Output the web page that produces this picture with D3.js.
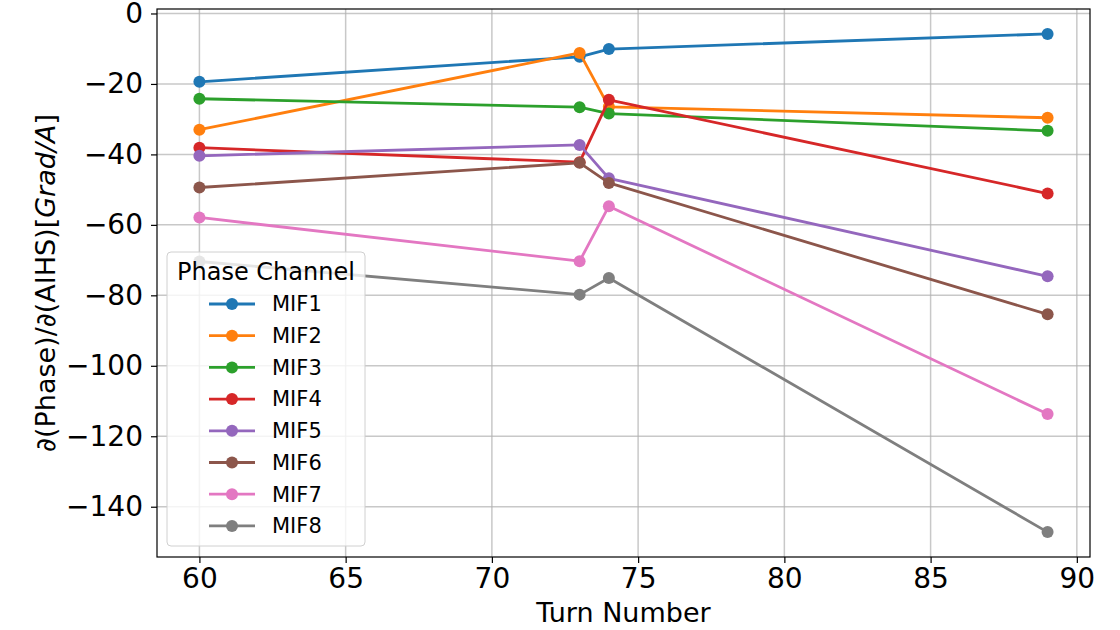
<!DOCTYPE html>
<html>
<head>
<meta charset="utf-8">
<script src="https://cdn.jsdelivr.net/npm/d3@7"></script>
<style>
  body { margin: 0; background: #fff; }
  svg { font-family: "DejaVu Sans", sans-serif; }
</style>
</head>
<body>
<div id="chart"></div>
<script>
// Turn numbers on the x axis
const turns = [60, 73, 74, 89];

// Channel names and values
const channels = ['MIF1', 'MIF2', 'MIF3', 'MIF4', 'MIF5', 'MIF6', 'MIF7', 'MIF8'];
const mif1 = [-19.4, -12.3, -10.1, -5.8];
const mif2 = [-33.0, -11.2, -26.5, -29.6];
const mif3 = [-24.2, -26.6, -28.4, -33.3];
const mif4 = [-38.1, -42.2, -24.5, -51.1];
const mif5 = [-40.4, -37.3, -46.8, -74.6];
const mif6 = [-49.4, -42.4, -48.1, -85.4];
const mif7 = [-57.9, -70.3, -54.7, -113.7];
const mif8 = [-70.4, -79.8, -75.1, -147.2];
const seriesValues = [mif1, mif2, mif3, mif4, mif5, mif6, mif7, mif8];

const xTicks = [60, 65, 70, 75, 80, 85, 90];
const yTicks = [0, -20, -40, -60, -80, -100, -120, -140];

const colors = ['#1f77b4', '#ff7f0e', '#2ca02c', '#d62728', '#9467bd', '#8c564b', '#e377c2', '#7f7f7f'];

// Layout
const W = 1120, H = 630;
const margin = { top: 9, right: 30, bottom: 73, left: 157 };
const width = W - margin.left - margin.right;
const height = H - margin.top - margin.bottom;

const svg = d3.select('#chart')
  .append('svg')
  .attr('width', W)
  .attr('height', H);

const g = svg.append('g')
  .attr('transform', `translate(${margin.left},${margin.top})`);

// matplotlib-style 5% padding around the data
const xMin = d3.min(turns), xMax = d3.max(turns);
const xPad = (xMax - xMin) * 0.05;
const yMin = d3.min(seriesValues, s => d3.min(s)), yMax = d3.max(seriesValues, s => d3.max(s));
const yPad = (yMax - yMin) * 0.05;

const xScale = d3.scaleLinear()
  .domain([xMin - xPad, xMax + xPad])
  .range([0, width]);

const yScale = d3.scaleLinear()
  .domain([yMin - yPad, yMax + yPad])
  .range([height, 0]);

// Grid
g.append('g')
  .selectAll('line')
  .data(xTicks)
  .enter()
  .append('line')
  .attr('x1', d => xScale(d)).attr('x2', d => xScale(d))
  .attr('y1', 0).attr('y2', height)
  .attr('stroke', '#b0b0b0').attr('stroke-opacity', 0.7).attr('stroke-width', 1.5);

g.append('g')
  .selectAll('line')
  .data(yTicks)
  .enter()
  .append('line')
  .attr('x1', 0).attr('x2', width)
  .attr('y1', d => yScale(d)).attr('y2', d => yScale(d))
  .attr('stroke', '#b0b0b0').attr('stroke-opacity', 0.7).attr('stroke-width', 1.5);

// Axes
const fmt = d => d < 0 ? '\u2212' + Math.abs(d) : String(d);

const xAxis = g.append('g')
  .attr('transform', `translate(0,${height})`)
  .call(d3.axisBottom(xScale).tickValues(xTicks).tickSize(6).tickPadding(5).tickFormat(fmt));

const yAxis = g.append('g')
  .call(d3.axisLeft(yScale).tickValues(yTicks).tickSize(6).tickPadding(8).tickFormat(fmt));

[xAxis, yAxis].forEach(ax => {
  ax.select('.domain').remove();
  ax.selectAll('line').attr('stroke', '#000').attr('stroke-width', 1.2);
  ax.selectAll('text')
    .attr('fill', '#000')
    .style('font-size', '28px')
    .style('font-family', '"DejaVu Sans", sans-serif');
});

// Frame
g.append('rect')
  .attr('x', 0).attr('y', 0)
  .attr('width', width).attr('height', height)
  .attr('fill', 'none')
  .attr('stroke', '#000')
  .attr('stroke-width', 1.2);

// Lines and markers
const line = d3.line()
  .x((d, i) => xScale(turns[i]))
  .y(d => yScale(d));

seriesValues.forEach((vals, k) => {
  const sg = g.append('g');
  sg.append('path')
    .datum(vals)
    .attr('d', line)
    .attr('fill', 'none')
    .attr('stroke', colors[k])
    .attr('stroke-width', 2.8)
    .attr('stroke-linejoin', 'round');
  sg.selectAll('circle')
    .data(vals)
    .enter()
    .append('circle')
    .attr('cx', (d, i) => xScale(turns[i]))
    .attr('cy', d => yScale(d))
    .attr('r', 6)
    .attr('fill', colors[k]);
});

// Axis labels
svg.append('text')
  .attr('x', margin.left + width / 2)
  .attr('y', 622)
  .attr('text-anchor', 'middle')
  .style('font-size', '27px')
  .text('Turn Number');

const yLabel = svg.append('text')
  .attr('transform', `translate(55,${margin.top + height / 2}) rotate(-90)`)
  .attr('text-anchor', 'middle')
  .style('font-size', '27px');
yLabel.append('tspan').text('\u2202(Phase)/\u2202(AIHS)[');
yLabel.append('tspan').style('font-style', 'italic').text('Grad/A');
yLabel.append('tspan').text(']');

// Legend
const legend = svg.append('g').attr('transform', 'translate(167,252)');
legend.append('rect')
  .attr('width', 198).attr('height', 294)
  .attr('rx', 4)
  .attr('fill', '#fff').attr('fill-opacity', 0.8)
  .attr('stroke', '#d0d0d0');

legend.append('text')
  .attr('x', 10).attr('y', 28)
  .style('font-size', '24px')
  .text('Phase Channel');

const items = legend.selectAll('.item')
  .data(channels)
  .enter()
  .append('g')
  .attr('class', 'item')
  .attr('transform', (d, i) => `translate(0,${52 + i * 31.7})`);

items.append('line')
  .attr('x1', 42).attr('x2', 88)
  .attr('stroke', (d, i) => colors[i])
  .attr('stroke-width', 2.8);
items.append('circle')
  .attr('cx', 65).attr('r', 6)
  .attr('fill', (d, i) => colors[i]);
items.append('text')
  .attr('x', 105).attr('dy', '0.35em')
  .style('font-size', '21px')
  .text(d => d);
</script>
</body>
</html>
